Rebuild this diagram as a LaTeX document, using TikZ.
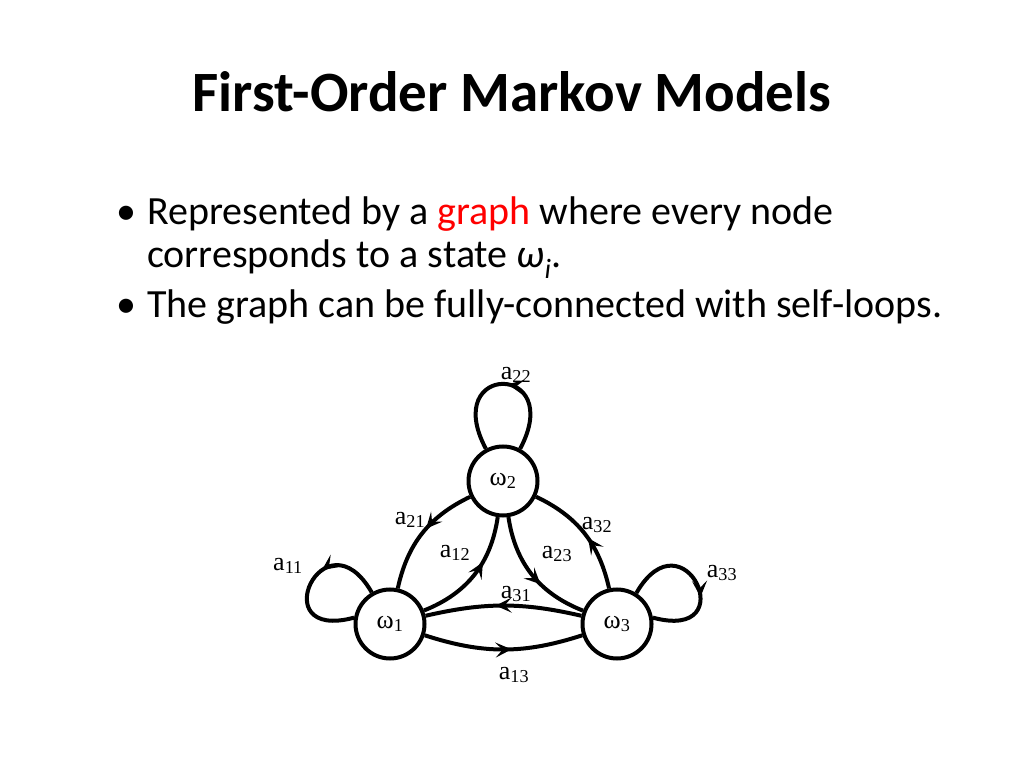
\documentclass[tikz,border=0pt]{standalone}
\usepackage{fontspec}
\usepackage{xcolor}
\setmainfont{Carlito}
\newfontfamily\diagfont{Liberation Serif}
\usetikzlibrary{arrows.meta,decorations.markings}

\tikzset{
  state/.style={circle, draw, line width=4pt, inner sep=0pt, minimum size=69pt, font=\diagfont\fontsize{26}{28}\selectfont},
  edge/.style={line width=4pt},
  midarrow/.style={postaction={decorate}, decoration={markings, mark=at position #1 with {\arrow{Stealth[length=16pt,width=15pt,inset=7pt]}}}},
  prob/.style={font=\diagfont\fontsize{26}{28}\selectfont, inner sep=0pt},
  bullettext/.style={anchor=base west, inner sep=0pt, font=\fontsize{40}{44}\selectfont}
}

\begin{document}
\begin{tikzpicture}[x=1pt, y=1pt]
      \useasboundingbox (0,0) rectangle (1024,768);

      \node[font=\fontsize{57}{60}\bfseries\selectfont] (title) at (512,676) {First-Order Markov Models};

      \node[bullettext] (b1) at (116,543) {•};
      \node[bullettext] (t1) at (147,543) {Represented by a {\color{red}graph} where every node};
      \node[bullettext] (t2) at (147,500) {corresponds to a state {\itshape ω\textsubscript{i}}.};
      \node[bullettext] (b2) at (116,450) {•};
      \node[bullettext] (t3) at (147,450) {The graph can be fully-connected with self-loops.};

      \node[state] (w1) at (390,144) {ω\textsubscript{1}};
      \node[state] (w2) at (503,287) {ω\textsubscript{2}};
      \node[state] (w3) at (617,144) {ω\textsubscript{3}};

      \draw[edge, midarrow=0.47] (w2.62) .. controls +(62:98) and +(118:98) .. (w2.118);
      \draw[edge, midarrow=0.4] (w1.120) .. controls +(120:95) and +(195:95) .. (w1.170);
      \draw[edge, midarrow=0.6] (w3.58) .. controls +(60:95) and +(-15:95) .. (w3.10);

      \draw[edge, midarrow=0.45] (w2) to[bend right=26] (w1);
      \draw[edge, midarrow=0.62] (w1) to[bend right=30] (w2);
      \draw[edge, midarrow=0.6] (w2) to[bend right=30] (w3);
      \draw[edge, midarrow=0.45] (w3) to[bend right=26] (w2);
      \draw[edge, midarrow=0.55] (w3) to[bend right=13] (w1);
      \draw[edge, midarrow=0.55] (w1) to[bend right=18] (w3);

      \node[prob] (l22) at (516,393) {a\textsubscript{22}};
      \node[prob] (l21) at (410,248) {a\textsubscript{21}};
      \node[prob] (l12) at (455,215) {a\textsubscript{12}};
      \node[prob] (l23) at (557,214) {a\textsubscript{23}};
      \node[prob] (l32) at (597,243) {a\textsubscript{32}};
      \node[prob] (l31) at (516,174) {a\textsubscript{31}};
      \node[prob] (l13) at (514,93) {a\textsubscript{13}};
      \node[prob] (l11) at (288,202) {a\textsubscript{11}};
      \node[prob] (l33) at (722,195) {a\textsubscript{33}};
\end{tikzpicture}
\end{document}
